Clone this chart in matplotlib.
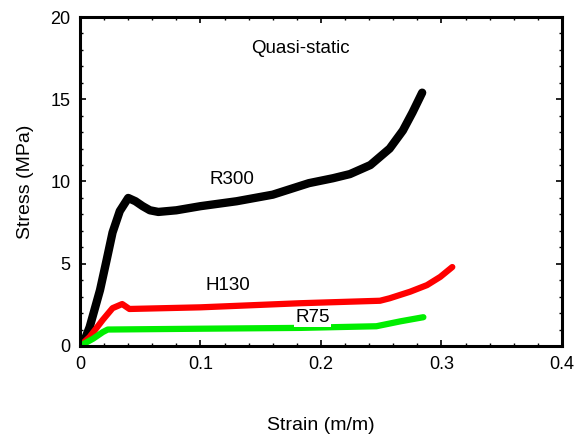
"""Quasi-static stress-strain curves for R300, H130 and R75 foams."""

import matplotlib

matplotlib.use("Agg")
import matplotlib.pyplot as plt
from matplotlib.ticker import MultipleLocator

# R300 (black)
r300_strain = [0, 0.004, 0.008, 0.0166, 0.022, 0.027, 0.033, 0.040, 0.046,
               0.052, 0.058, 0.065, 0.080, 0.100, 0.130, 0.160, 0.190, 0.210,
               0.224, 0.241, 0.257, 0.268, 0.276, 0.284]
r300_stress = [0, 0.4, 1.15, 3.4, 5.2, 6.9, 8.2, 9.0, 8.8,
               8.5, 8.25, 8.15, 8.25, 8.5, 8.8, 9.2, 9.9, 10.2,
               10.45, 11.0, 12.0, 13.1, 14.2, 15.4]

# H130 (red)
h130_strain = [0, 0.008, 0.019, 0.027, 0.035, 0.041, 0.100, 0.183,
               0.249, 0.257, 0.274, 0.288, 0.299, 0.309]
h130_stress = [0, 0.55, 1.6, 2.3, 2.55, 2.25, 2.35, 2.6,
               2.75, 2.9, 3.3, 3.7, 4.2, 4.8]

# R75 (green)
r75_strain = [0, 0.011, 0.019, 0.023, 0.100, 0.183, 0.246, 0.266, 0.285]
r75_stress = [0, 0.45, 0.85, 1.0, 1.05, 1.1, 1.2, 1.5, 1.75]

plt.rcParams["font.family"] = ["Liberation Sans", "DejaVu Sans"]

fig = plt.figure(figsize=(5.82, 4.34), dpi=100)
ax = fig.add_axes([0.1375, 0.2028, 0.828, 0.758])

ax.plot(r300_strain, r300_stress, color="black", lw=6,
        solid_capstyle="round", solid_joinstyle="round")
ax.plot(h130_strain, h130_stress, color="#ff0000", lw=4.5,
        solid_capstyle="round", solid_joinstyle="round")
ax.plot(r75_strain, r75_stress, color="#00ee00", lw=4.5,
        solid_capstyle="round", solid_joinstyle="round")

ax.text(0.183, 18.1, "Quasi-static", ha="center", va="center", fontsize=13.5)
ax.text(0.126, 10.1, "R300", ha="center", va="center", fontsize=13.5)
ax.text(0.123, 3.65, "H130", ha="center", va="center", fontsize=13.5)
ax.text(0.193, 1.75, "R75", ha="center", va="center", fontsize=13.5,
        bbox=dict(facecolor="white", edgecolor="none", pad=1))

ax.set_xlim(0, 0.4)
ax.set_ylim(0, 20)
ax.set_xticks([0, 0.1, 0.2, 0.3, 0.4])
ax.set_xticklabels(["0", "0.1", "0.2", "0.3", "0.4"])
ax.xaxis.set_minor_locator(MultipleLocator(0.02))
ax.yaxis.set_major_locator(MultipleLocator(5))
ax.yaxis.set_minor_locator(MultipleLocator(1))
ax.tick_params(which="both", direction="in", top=True, right=True, labelsize=13)
ax.tick_params(which="major", length=4, width=1.2, pad=7)
ax.tick_params(which="minor", length=2, width=1)
for spine in ax.spines.values():
    spine.set_linewidth(2.2)

ax.set_xlabel("Strain (m/m)", fontsize=14, labelpad=32)
ax.set_ylabel("Stress (MPa)", fontsize=14, labelpad=12)

fig.savefig("out.png", dpi=100)
